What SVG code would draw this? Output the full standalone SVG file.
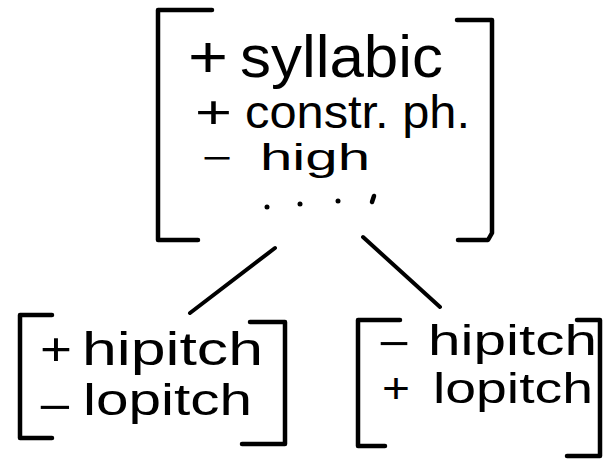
<svg xmlns="http://www.w3.org/2000/svg" width="603" height="461" viewBox="0 0 603 461">
  <style>
    .br { fill: none; stroke: #000; stroke-width: 4.5; stroke-linecap: round; stroke-linejoin: round; }
    .edge { fill: none; stroke: #000; stroke-width: 4; stroke-linecap: round; }
    .t { font-family: "Liberation Sans", "DejaVu Sans", sans-serif; fill: #000; }
    .dot { fill: #000; }
  </style>
  <rect width="603" height="461" fill="#fff"/>

  <!-- parent feature bundle -->
  <g id="node-top">
    <path class="br" d="M212 10 H158 V240 H198"/>
    <path class="br" d="M457 20 H492 V233 L488 240 H458"/>
    <text class="t" x="188" y="77" font-size="60" textLength="40" lengthAdjust="spacingAndGlyphs">+</text>
    <text class="t" x="240" y="77" font-size="60" textLength="203" lengthAdjust="spacingAndGlyphs">syllabic</text>
    <text class="t" x="195" y="128" font-size="46" textLength="37" lengthAdjust="spacingAndGlyphs">+</text>
    <text class="t" x="245" y="128" font-size="46" textLength="225" lengthAdjust="spacingAndGlyphs">constr. ph.</text>
    <text class="t" x="202" y="170" font-size="36" textLength="30" lengthAdjust="spacingAndGlyphs">−</text>
    <text class="t" x="260" y="170" font-size="36" textLength="110" lengthAdjust="spacingAndGlyphs">high</text>
    <circle class="dot" cx="267" cy="207" r="2.5"/>
    <circle class="dot" cx="300" cy="204" r="2.5"/>
    <circle class="dot" cx="338" cy="201" r="2.5"/>
    <path class="br" d="M374 196 L372 202" stroke-width="3.5"/>
  </g>

  <!-- branches -->
  <g id="connectors">
    <line class="edge" x1="275" y1="248" x2="190" y2="313"/>
    <line class="edge" x1="363" y1="237" x2="440" y2="307"/>
  </g>

  <!-- left daughter -->
  <g id="node-left">
    <path class="br" d="M52 315 H20 V438 H52"/>
    <path class="br" d="M250 322 H285 V444 H242"/>
    <text class="t" x="40" y="365" font-size="46" textLength="32" lengthAdjust="spacingAndGlyphs">+</text>
    <text class="t" x="82" y="365" font-size="46" textLength="181" lengthAdjust="spacingAndGlyphs">hipitch</text>
    <text class="t" x="38" y="422" font-size="44" textLength="34" lengthAdjust="spacingAndGlyphs">−</text>
    <text class="t" x="83" y="415" font-size="44" textLength="169" lengthAdjust="spacingAndGlyphs">lopitch</text>
  </g>

  <!-- right daughter -->
  <g id="node-right">
    <path class="br" d="M400 320 H358 V446 H385"/>
    <path class="br" d="M577 320 H600 V456 H567"/>
    <text class="t" x="378" y="358" font-size="43" textLength="32" lengthAdjust="spacingAndGlyphs">−</text>
    <text class="t" x="428" y="355" font-size="43" textLength="169" lengthAdjust="spacingAndGlyphs">hipitch</text>
    <text class="t" x="382" y="403" font-size="43" textLength="28" lengthAdjust="spacingAndGlyphs">+</text>
    <text class="t" x="433" y="403" font-size="43" textLength="160" lengthAdjust="spacingAndGlyphs">lopitch</text>
  </g>
</svg>
